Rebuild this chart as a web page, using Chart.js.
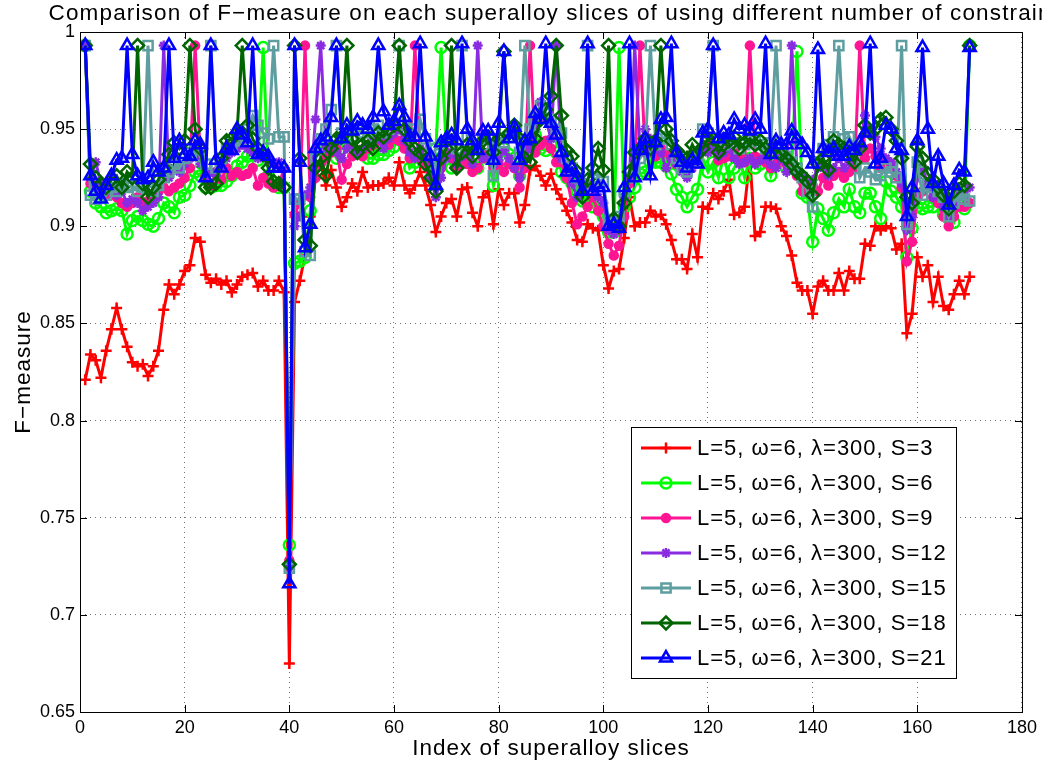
<!DOCTYPE html>
<html>
<head>
<meta charset="utf-8">
<title>F-measure per superalloy slice</title>
<script src="https://cdn.jsdelivr.net/npm/chart.js"></script>
<style>
  html, body { margin: 0; padding: 0; background: #fff; }
  #wrap { width: 1042px; height: 767px; }
</style>
</head>
<body>
<div id="wrap"><canvas id="chart" width="1042" height="767"></canvas></div>
<script>
// slice indices 1..170
const sliceIndex = Array.from({length: 170}, (_, i) => i + 1)

const xTicks = {min: 0, max: 180, step: 20}
const yTicks = {min: 0.65, max: 1, step: 0.05}

const seriesLabels = [
  "L=5, \u03c9=6, \u03bb=300, S=3",
  "L=5, \u03c9=6, \u03bb=300, S=6",
  "L=5, \u03c9=6, \u03bb=300, S=9",
  "L=5, \u03c9=6, \u03bb=300, S=12",
  "L=5, \u03c9=6, \u03bb=300, S=15",
  "L=5, \u03c9=6, \u03bb=300, S=18",
  "L=5, \u03c9=6, \u03bb=300, S=21"
]

const fS3 = [
  0.821, 0.834, 0.831, 0.822, 0.836, 0.847, 0.858, 0.847, 0.838, 0.830,
  0.828, 0.829, 0.823, 0.828, 0.836, 0.857, 0.870, 0.865, 0.870, 0.877,
  0.880, 0.894, 0.892, 0.875, 0.871, 0.873, 0.870, 0.872, 0.866, 0.870,
  0.874, 0.875, 0.876, 0.869, 0.872, 0.867, 0.867, 0.872, 0.866, 0.675,
  0.861, 0.872, 0.885, 0.905, 0.925, 0.932, 0.921, 0.929, 0.920, 0.910,
  0.915, 0.922, 0.918, 0.928, 0.920, 0.921, 0.921, 0.922, 0.925, 0.921,
  0.933, 0.921, 0.917, 0.921, 0.928, 0.921, 0.911, 0.897, 0.905, 0.912,
  0.914, 0.905, 0.919, 0.920, 0.907, 0.900, 0.915, 0.918, 0.901, 0.919,
  0.911, 0.917, 0.917, 0.902, 0.911, 0.929, 0.931, 0.926, 0.921, 0.927,
  0.919, 0.914, 0.908, 0.902, 0.893, 0.892, 0.901, 0.899, 0.898, 0.880,
  0.868, 0.877, 0.878, 0.894, 0.915, 0.900, 0.902, 0.902, 0.908, 0.905,
  0.906, 0.901, 0.893, 0.883, 0.883, 0.878, 0.896, 0.884, 0.910, 0.909,
  0.917, 0.914, 0.918, 0.924, 0.906, 0.907, 0.910, 0.935, 0.895, 0.897,
  0.910, 0.910, 0.909, 0.900, 0.895, 0.885, 0.871, 0.867, 0.867, 0.855,
  0.869, 0.872, 0.867, 0.867, 0.876, 0.867, 0.877, 0.873, 0.873, 0.891,
  0.890, 0.900, 0.898, 0.900, 0.899, 0.888, 0.891, 0.845, 0.855, 0.884,
  0.874, 0.880, 0.861, 0.874, 0.859, 0.857, 0.865, 0.872, 0.865, 0.874
]

const fS6 = [
  0.993, 0.918, 0.912, 0.910, 0.907, 0.908, 0.909, 0.908, 0.896, 0.903,
  0.905, 0.903, 0.901, 0.900, 0.904, 0.912, 0.910, 0.907, 0.915, 0.916,
  0.921, 0.928, 0.926, 0.920, 0.920, 0.921, 0.921, 0.923, 0.926, 0.931,
  0.933, 0.936, 0.937, 0.934, 0.992, 0.926, 0.921, 0.920, 0.920, 0.736,
  0.881, 0.882, 0.884, 0.908, 0.935, 0.940, 0.944, 0.940, 0.935, 0.940,
  0.942, 0.945, 0.938, 0.938, 0.935, 0.935, 0.937, 0.937, 0.939, 0.941,
  0.945, 0.942, 0.930, 0.933, 0.935, 0.937, 0.935, 0.940, 0.992, 0.940,
  0.930, 0.935, 0.938, 0.935, 0.932, 0.930, 0.937, 0.935, 0.921, 0.930,
  0.940, 0.937, 0.935, 0.926, 0.940, 0.945, 0.947, 0.940, 0.939, 0.942,
  0.938, 0.928, 0.925, 0.922, 0.918, 0.913, 0.918, 0.910, 0.912, 0.905,
  0.897, 0.897, 0.992, 0.910, 0.915, 0.920, 0.927, 0.928, 0.933, 0.933,
  0.933, 0.931, 0.927, 0.919, 0.915, 0.910, 0.915, 0.919, 0.935, 0.928,
  0.933, 0.925, 0.936, 0.925, 0.930, 0.935, 0.925, 0.935, 0.930, 0.932,
  0.935, 0.926, 0.933, 0.935, 0.930, 0.930, 0.990, 0.917, 0.915, 0.892,
  0.909, 0.904, 0.898, 0.907, 0.914, 0.910, 0.919, 0.910, 0.907, 0.917,
  0.917, 0.910, 0.904, 0.923, 0.918, 0.915, 0.910, 0.884, 0.899, 0.910,
  0.909, 0.910, 0.910, 0.915, 0.906, 0.904, 0.902, 0.911, 0.909, 0.993
]

const fS9 = [
  0.993, 0.922, 0.920, 0.919, 0.916, 0.918, 0.915, 0.912, 0.910, 0.912,
  0.915, 0.912, 0.913, 0.915, 0.918, 0.920, 0.918, 0.920, 0.922, 0.925,
  0.930, 0.993, 0.935, 0.926, 0.921, 0.928, 0.924, 0.930, 0.926, 0.928,
  0.926, 0.927, 0.930, 0.921, 0.925, 0.922, 0.920, 0.921, 0.930, 0.728,
  0.906, 0.912, 0.993, 0.915, 0.925, 0.932, 0.935, 0.938, 0.940, 0.924,
  0.932, 0.936, 0.938, 0.936, 0.940, 0.942, 0.944, 0.944, 0.942, 0.945,
  0.944, 0.940, 0.935, 0.993, 0.935, 0.932, 0.928, 0.922, 0.930, 0.938,
  0.935, 0.930, 0.935, 0.932, 0.928, 0.930, 0.935, 0.938, 0.930, 0.932,
  0.928, 0.932, 0.930, 0.920, 0.930, 0.993, 0.938, 0.942, 0.944, 0.940,
  0.933, 0.933, 0.925, 0.912, 0.901, 0.905, 0.910, 0.915, 0.908, 0.900,
  0.891, 0.885, 0.890, 0.905, 0.922, 0.930, 0.993, 0.938, 0.940, 0.936,
  0.940, 0.938, 0.935, 0.932, 0.930, 0.928, 0.932, 0.935, 0.940, 0.942,
  0.940, 0.934, 0.935, 0.936, 0.938, 0.935, 0.933, 0.993, 0.936, 0.935,
  0.933, 0.930, 0.932, 0.935, 0.932, 0.930, 0.926, 0.918, 0.920, 0.921,
  0.918, 0.925, 0.921, 0.926, 0.928, 0.925, 0.928, 0.930, 0.993, 0.935,
  0.940, 0.936, 0.930, 0.934, 0.932, 0.926, 0.920, 0.882, 0.892, 0.915,
  0.918, 0.920, 0.915, 0.912, 0.905, 0.900, 0.905, 0.910, 0.910, 0.912
]

const fS12 = [
  0.993, 0.925, 0.933, 0.922, 0.918, 0.920, 0.916, 0.918, 0.912, 0.914,
  0.912, 0.908, 0.910, 0.912, 0.915, 0.993, 0.925, 0.930, 0.928, 0.932,
  0.935, 0.938, 0.932, 0.925, 0.928, 0.926, 0.930, 0.935, 0.938, 0.940,
  0.942, 0.940, 0.938, 0.935, 0.936, 0.934, 0.932, 0.933, 0.930, 0.725,
  0.900, 0.905, 0.916, 0.920, 0.955, 0.993, 0.940, 0.942, 0.938, 0.935,
  0.940, 0.942, 0.938, 0.940, 0.942, 0.944, 0.945, 0.940, 0.945, 0.948,
  0.950, 0.944, 0.938, 0.935, 0.940, 0.935, 0.925, 0.915, 0.925, 0.935,
  0.938, 0.932, 0.936, 0.938, 0.932, 0.993, 0.935, 0.936, 0.932, 0.934,
  0.939, 0.935, 0.930, 0.925, 0.935, 0.940, 0.950, 0.964, 0.955, 0.945,
  0.993, 0.935, 0.928, 0.922, 0.915, 0.918, 0.922, 0.920, 0.915, 0.912,
  0.898, 0.896, 0.898, 0.915, 0.925, 0.993, 0.940, 0.950, 0.945, 0.940,
  0.938, 0.930, 0.935, 0.932, 0.928, 0.925, 0.930, 0.932, 0.940, 0.938,
  0.940, 0.936, 0.938, 0.940, 0.935, 0.932, 0.933, 0.935, 0.932, 0.934,
  0.935, 0.932, 0.930, 0.935, 0.928, 0.993, 0.928, 0.925, 0.922, 0.924,
  0.930, 0.932, 0.926, 0.930, 0.935, 0.930, 0.933, 0.935, 0.940, 0.957,
  0.948, 0.946, 0.940, 0.935, 0.933, 0.928, 0.922, 0.898, 0.905, 0.925,
  0.930, 0.922, 0.915, 0.918, 0.910, 0.905, 0.912, 0.918, 0.915, 0.920
]

const fS15 = [
  0.993, 0.916, 0.914, 0.918, 0.916, 0.920, 0.918, 0.922, 0.920, 0.921,
  0.918, 0.920, 0.993, 0.918, 0.921, 0.925, 0.928, 0.932, 0.930, 0.935,
  0.938, 0.940, 0.936, 0.932, 0.993, 0.930, 0.935, 0.940, 0.942, 0.945,
  0.944, 0.950, 0.957, 0.952, 0.948, 0.945, 0.993, 0.946, 0.946, 0.724,
  0.914, 0.914, 0.887, 0.885, 0.935, 0.945, 0.950, 0.960, 0.993, 0.948,
  0.950, 0.946, 0.950, 0.948, 0.946, 0.950, 0.952, 0.948, 0.950, 0.953,
  0.993, 0.952, 0.948, 0.950, 0.955, 0.945, 0.940, 0.930, 0.942, 0.944,
  0.945, 0.940, 0.993, 0.946, 0.942, 0.940, 0.945, 0.942, 0.926, 0.945,
  0.943, 0.946, 0.948, 0.938, 0.993, 0.950, 0.955, 0.962, 0.958, 0.955,
  0.950, 0.948, 0.935, 0.930, 0.925, 0.922, 0.993, 0.925, 0.924, 0.923,
  0.903, 0.902, 0.905, 0.918, 0.925, 0.930, 0.935, 0.940, 0.993, 0.942,
  0.945, 0.946, 0.942, 0.935, 0.930, 0.928, 0.935, 0.933, 0.950, 0.948,
  0.993, 0.944, 0.942, 0.945, 0.943, 0.940, 0.942, 0.944, 0.945, 0.942,
  0.940, 0.943, 0.993, 0.938, 0.936, 0.933, 0.930, 0.925, 0.918, 0.910,
  0.933, 0.940, 0.942, 0.946, 0.993, 0.945, 0.946, 0.940, 0.925, 0.930,
  0.928, 0.924, 0.926, 0.930, 0.928, 0.925, 0.993, 0.901, 0.912, 0.933,
  0.916, 0.922, 0.920, 0.918, 0.915, 0.905, 0.912, 0.916, 0.914, 0.913
]

const fS18 = [
  0.993, 0.932, 0.925, 0.922, 0.920, 0.924, 0.926, 0.920, 0.928, 0.925,
  0.993, 0.922, 0.915, 0.920, 0.924, 0.930, 0.937, 0.943, 0.940, 0.944,
  0.993, 0.950, 0.940, 0.920, 0.920, 0.922, 0.935, 0.944, 0.945, 0.948,
  0.993, 0.952, 0.945, 0.940, 0.937, 0.930, 0.923, 0.922, 0.920, 0.726,
  0.993, 0.935, 0.893, 0.890, 0.930, 0.935, 0.926, 0.940, 0.945, 0.946,
  0.993, 0.945, 0.938, 0.942, 0.944, 0.940, 0.948, 0.946, 0.950, 0.952,
  0.993, 0.950, 0.944, 0.940, 0.938, 0.932, 0.925, 0.918, 0.935, 0.940,
  0.993, 0.930, 0.938, 0.942, 0.936, 0.940, 0.944, 0.946, 0.938, 0.945,
  0.990, 0.948, 0.952, 0.945, 0.935, 0.933, 0.945, 0.955, 0.960, 0.967,
  0.993, 0.957, 0.939, 0.936, 0.928, 0.915, 0.924, 0.930, 0.940, 0.929,
  0.993, 0.904, 0.900, 0.912, 0.928, 0.938, 0.940, 0.945, 0.940, 0.944,
  0.993, 0.950, 0.944, 0.939, 0.936, 0.935, 0.942, 0.937, 0.940, 0.945,
  0.945, 0.938, 0.942, 0.944, 0.946, 0.940, 0.943, 0.945, 0.942, 0.944,
  0.940, 0.938, 0.941, 0.937, 0.935, 0.932, 0.928, 0.926, 0.923, 0.916,
  0.932, 0.935, 0.929, 0.944, 0.942, 0.940, 0.938, 0.933, 0.940, 0.952,
  0.948, 0.950, 0.955, 0.956, 0.950, 0.944, 0.935, 0.915, 0.912, 0.941,
  0.935, 0.927, 0.924, 0.920, 0.916, 0.909, 0.918, 0.922, 0.921, 0.993
]

const fS21 = [
  0.993, 0.926, 0.918, 0.914, 0.921, 0.926, 0.934, 0.935, 0.993, 0.937,
  0.926, 0.924, 0.925, 0.933, 0.928, 0.930, 0.993, 0.935, 0.944, 0.937,
  0.936, 0.944, 0.942, 0.925, 0.993, 0.934, 0.930, 0.940, 0.939, 0.950,
  0.947, 0.943, 0.993, 0.937, 0.938, 0.936, 0.930, 0.930, 0.930, 0.716,
  0.993, 0.933, 0.889, 0.901, 0.940, 0.944, 0.946, 0.956, 0.993, 0.945,
  0.952, 0.949, 0.954, 0.952, 0.950, 0.956, 0.993, 0.959, 0.952, 0.954,
  0.962, 0.956, 0.946, 0.946, 0.994, 0.946, 0.936, 0.921, 0.943, 0.945,
  0.947, 0.944, 0.994, 0.950, 0.944, 0.939, 0.949, 0.949, 0.934, 0.953,
  0.990, 0.945, 0.951, 0.934, 0.944, 0.945, 0.958, 0.955, 0.994, 0.953,
  0.947, 0.938, 0.928, 0.930, 0.925, 0.918, 0.994, 0.918, 0.920, 0.920,
  0.900, 0.901, 0.899, 0.920, 0.994, 0.925, 0.939, 0.945, 0.926, 0.943,
  0.955, 0.956, 0.994, 0.938, 0.933, 0.930, 0.934, 0.932, 0.948, 0.950,
  0.993, 0.945, 0.948, 0.947, 0.955, 0.950, 0.952, 0.949, 0.955, 0.950,
  0.994, 0.937, 0.944, 0.942, 0.942, 0.949, 0.945, 0.942, 0.938, 0.932,
  0.991, 0.940, 0.938, 0.940, 0.936, 0.936, 0.941, 0.939, 0.943, 0.948,
  0.994, 0.932, 0.935, 0.952, 0.950, 0.940, 0.939, 0.905, 0.920, 0.944,
  0.992, 0.950, 0.922, 0.936, 0.922, 0.911, 0.921, 0.929, 0.928, 0.992
]

const FONT = '"Liberation Sans", Arial, Helvetica, sans-serif'

// line + marker style per series, matlab-ish
const styles = [
  {color: "#ff0000", pointStyle: "cross", radius: 5.5, fill: "#ff0000", bw: 2.5},
  {color: "#00ff00", pointStyle: "circle", radius: 5.5, fill: "rgba(0,0,0,0)", bw: 2.5},
  {color: "#ff1493", pointStyle: "circle", radius: 4.5, fill: "#ff1493", bw: 1.5},
  {color: "#8a2be2", pointStyle: "star", radius: 5, fill: "#8a2be2", bw: 2.5},
  {color: "#5f9ea0", pointStyle: "rect", radius: 6.5, fill: "rgba(0,0,0,0)", bw: 2.5},
  {color: "#006400", pointStyle: "rectRot", radius: 6.5, fill: "rgba(0,0,0,0)", bw: 2.5},
  {color: "#0000ff", pointStyle: "triangle", radius: 7, fill: "rgba(0,0,0,0)", bw: 2.5}
]

const series = [fS3, fS6, fS9, fS12, fS15, fS18, fS21]

const datasets = series.map((values, i) => ({
  label: seriesLabels[i],
  data: values,
  borderColor: styles[i].color,
  borderWidth: 3,
  pointStyle: styles[i].pointStyle,
  pointRadius: styles[i].radius,
  pointBorderWidth: styles[i].bw,
  pointBorderColor: styles[i].color,
  pointBackgroundColor: styles[i].fill,
  tension: 0,
  // last series ends up on top
  order: series.length - i
}))

const withSpacing = (ctx, px, fn) => {
  if ("letterSpacing" in ctx) ctx.letterSpacing = px + "px"
  fn()
  if ("letterSpacing" in ctx) ctx.letterSpacing = "0px"
}

const axesBox = {
  id: "axesBox",
  afterDatasetsDraw(chart) {
    const {ctx, chartArea: a, scales: {x, y}} = chart
    ctx.save()
    ctx.strokeStyle = "#000"
    ctx.lineWidth = 1
    ctx.strokeRect(a.left + 0.5, a.top + 0.5, a.right - a.left, a.bottom - a.top)
    ctx.beginPath()
    const len = 7
    x.ticks.forEach(t => {
      const px = Math.round(x.getPixelForValue(t.value)) + 0.5
      ctx.moveTo(px, a.bottom); ctx.lineTo(px, a.bottom - len)
      ctx.moveTo(px, a.top); ctx.lineTo(px, a.top + len)
    })
    y.ticks.forEach(t => {
      const py = Math.round(y.getPixelForValue(t.value)) + 0.5
      ctx.moveTo(a.left, py); ctx.lineTo(a.left + len, py)
      ctx.moveTo(a.right, py); ctx.lineTo(a.right - len, py)
    })
    ctx.stroke()
    ctx.restore()
  },
  afterDraw(chart) {
    const {ctx, chartArea: a} = chart
    ctx.save()
    ctx.fillStyle = "#000"

    // title, runs past the right edge like the figure does
    ctx.font = "22.5px " + FONT
    ctx.textAlign = "center"
    ctx.textBaseline = "alphabetic"
    withSpacing(ctx, 1.15, () => {
      ctx.fillText("Comparison of F\u2212measure on each superalloy slices of using different number of constraints",
        (a.left + a.right) / 2 + 9, 19.5)
    })
    withSpacing(ctx, 1, () => {
      ctx.fillText("Index of superalloy slices", (a.left + a.right) / 2, 755)
      ctx.save()
      ctx.translate(30, (a.top + a.bottom) / 2)
      ctx.rotate(-Math.PI / 2)
      ctx.fillText("F\u2212measure", 0, 0)
      ctx.restore()
    })

    // legend box
    const box = {left: 631, top: 427, right: 956, bottom: 678}
    ctx.fillStyle = "#fff"
    ctx.fillRect(box.left, box.top, box.right - box.left, box.bottom - box.top)
    ctx.strokeStyle = "#000"
    ctx.lineWidth = 1
    ctx.strokeRect(box.left + 0.5, box.top + 0.5, box.right - box.left, box.bottom - box.top)

    ctx.font = "22px " + FONT
    ctx.textAlign = "left"
    ctx.textBaseline = "middle"
    chart.data.datasets.forEach((ds, i) => {
      const yy = 448 + i * 35
      ctx.strokeStyle = ds.borderColor
      ctx.lineWidth = ds.borderWidth
      ctx.beginPath()
      ctx.moveTo(641, yy)
      ctx.lineTo(691, yy)
      ctx.stroke()
      ctx.fillStyle = ds.pointBackgroundColor
      ctx.lineWidth = ds.pointBorderWidth
      Chart.helpers.drawPoint(ctx, {
        pointStyle: ds.pointStyle, radius: ds.pointRadius, rotation: 0, borderWidth: ds.pointBorderWidth
      }, 666, yy)
      ctx.fillStyle = "#000"
      withSpacing(ctx, 1, () => ctx.fillText(ds.label, 697, yy + 1))
    })
    ctx.restore()
  }
}

const tickFont = {family: FONT, size: 18}

new Chart(document.getElementById("chart"), {
  type: "line",
  data: {labels: sliceIndex, datasets},
  options: {
    responsive: false,
    animation: false,
    events: [],
    devicePixelRatio: 1,
    layout: {padding: {top: 32, right: 20, bottom: 0, left: 0}},
    plugins: {legend: {display: false}, tooltip: {enabled: false}, title: {display: false}},
    scales: {
      x: {
        type: "linear",
        min: xTicks.min,
        max: xTicks.max,
        afterFit: s => { s.height = 55 },
        ticks: {stepSize: xTicks.step, color: "#000", font: tickFont, padding: 5, maxRotation: 0},
        grid: {color: "rgba(0,0,0,0.55)", lineWidth: 1, drawTicks: false},
        border: {display: false, dash: [1, 4]}
      },
      y: {
        min: yTicks.min,
        max: yTicks.max,
        afterFit: s => { s.width = 80 },
        ticks: {
          stepSize: yTicks.step, color: "#000", font: tickFont, padding: 5,
          callback: v => String(+v.toFixed(2))
        },
        grid: {color: "rgba(0,0,0,0.55)", lineWidth: 1, drawTicks: false},
        border: {display: false, dash: [1, 4]}
      }
    }
  },
  plugins: [axesBox]
})
</script>
</body>
</html>
